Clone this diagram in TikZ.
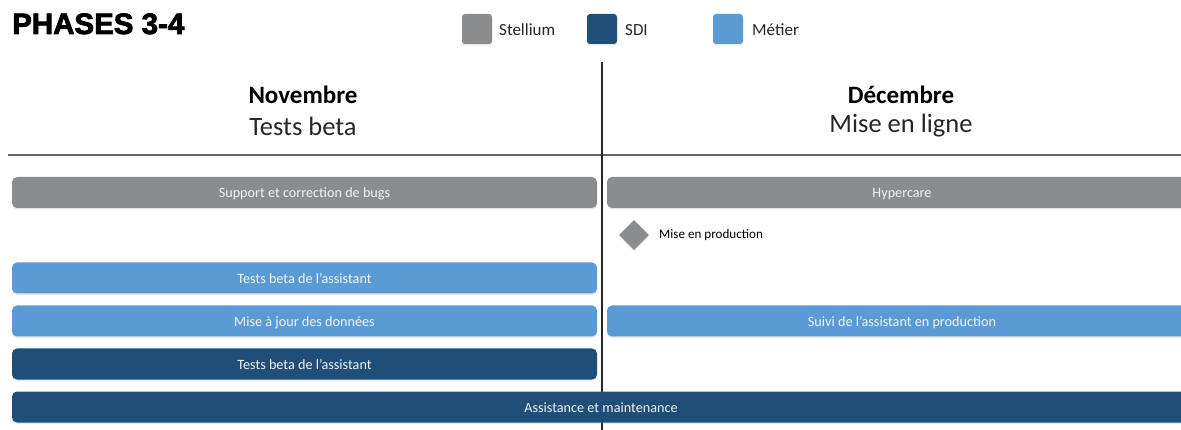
\documentclass[tikz,border=0pt]{standalone}
\usepackage{fontspec}
\setmainfont{Carlito}
\newfontfamily\titlefont[BoldFeatures={FakeBold=2.5}]{Liberation Sans}
\usetikzlibrary{shapes.geometric,shadows}
\definecolor{stell}{HTML}{8A8C8E}
\definecolor{sdi}{HTML}{1F4E79}
\definecolor{metier}{HTML}{5B9BD5}
\definecolor{bartext}{HTML}{F2F2F2}
\tikzset{
  bar/.style={rounded corners=5pt, inner sep=0pt, minimum height=31pt, text=bartext,
    text height=11.5pt, text depth=0.5pt, font=\fontsize{14.2}{16}\selectfont,
    drop shadow={opacity=0.18, shadow xshift=0pt, shadow yshift=-1.5pt}},
  legsq/.style={rounded corners=3pt, minimum size=30pt, inner sep=0pt,
    drop shadow={opacity=0.15, shadow xshift=0pt, shadow yshift=-1.5pt}},
  legtxt/.style={anchor=west, inner sep=0pt, font=\fontsize{17}{19}\selectfont, text=black!85},
  month/.style={font=\fontsize{25}{28}\selectfont\bfseries, text=black},
  phase/.style={font=\fontsize{26.5}{29}\selectfont, text=black!85},
}
\begin{document}
\begin{tikzpicture}[x=1pt,y=-1pt]
\useasboundingbox (0,0) rectangle (1181,430);
\clip (0,0) rectangle (1181,430);
% title
\node[anchor=base west, inner sep=0pt, font=\titlefont\fontsize{29.5}{32}\selectfont\bfseries] (title) at (12,34) {PHASES 3-4};
% legend
\node[legsq, fill=stell] (lg1) at (477,29) {};
\node[legtxt] (lt1) at (499,30) {Stellium};
\node[legsq, fill=sdi] (lg2) at (602,29) {};
\node[legtxt] (lt2) at (625,30) {SDI};
\node[legsq, fill=metier] (lg3) at (728,29) {};
\node[legtxt] (lt3) at (752,30) {Métier};
% headers
\node[month] (nov) at (303,95) {Novembre};
\node[phase] (novp) at (303,126) {Tests beta};
\node[month] (dec) at (901,95) {Décembre};
\node[phase] (decp) at (901,126) {Mise en ligne};
% grid lines
\coordinate (hl) at (8,155);
\coordinate (hr) at (1181,155);
\draw[line width=1.6pt, black!60] (hl) -- (hr);
\coordinate (vt) at (602,62);
\coordinate (vb) at (602,432);
\draw[line width=1.2pt, black!85] (vt) -- (vb);
% bars
\node[bar, fill=stell, minimum width=585pt] (b1) at (304.5,192.5) {Support et correction de bugs};
\node[bar, fill=stell, minimum width=590pt] (b2) at (902,192.5) {Hypercare};
\node[diamond, fill=stell, inner sep=0pt, minimum width=30pt, minimum height=30pt,
  drop shadow={opacity=0.15, shadow xshift=0pt, shadow yshift=-1.5pt}] (ms) at (634,235) {};
\node[anchor=west, inner sep=0pt, font=\fontsize{13.1}{15}\selectfont, text=black] (mst) at (659,235) {Mise en production};
\node[bar, fill=metier, minimum width=585pt] (b3) at (304.5,278) {Tests beta de l’assistant};
\node[bar, fill=metier, minimum width=585pt] (b4) at (304.5,321) {Mise à jour des données};
\node[bar, fill=metier, minimum width=590pt] (b5) at (902,321) {Suivi de l’assistant en production};
\node[bar, fill=sdi, minimum width=585pt] (b6) at (304.5,364) {Tests beta de l’assistant};
\node[bar, fill=sdi, minimum width=1185pt] (b7) at (604.5,407) {};
\node[text=bartext, font=\fontsize{14.2}{16}\selectfont, text height=11.5pt, text depth=0.5pt, inner sep=0pt] (b7t) at (601,407) {Assistance et maintenance};
\end{tikzpicture}
\end{document}
